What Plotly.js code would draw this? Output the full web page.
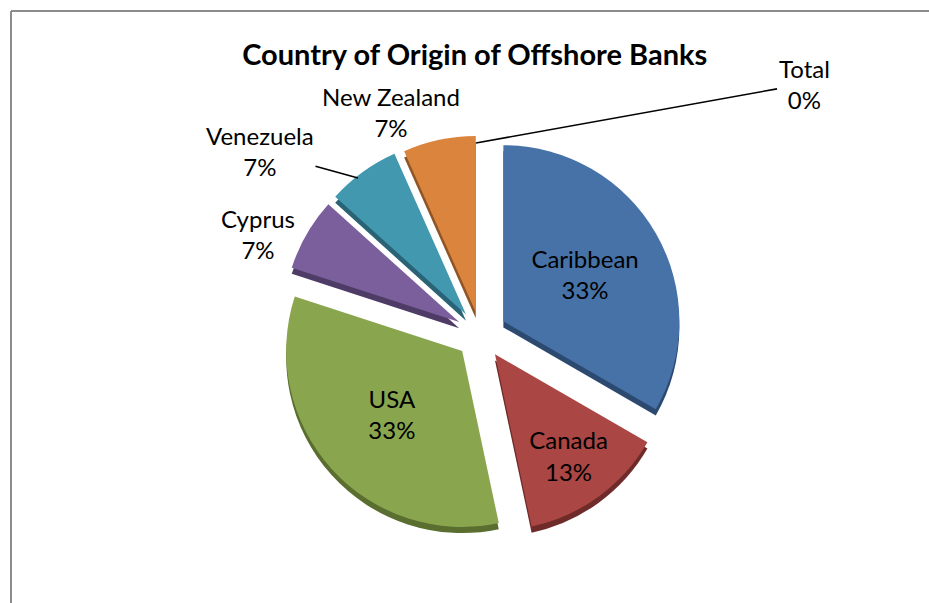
<!DOCTYPE html>
<html>
<head>
<meta charset="utf-8">
<script src="https://cdn.plot.ly/plotly-3.0.1.min.js"></script>
<style>html,body{margin:0;padding:0;background:#fff;}#chart{width:929px;height:603px;}</style>
</head>
<body>
<div id="chart"></div>
<script>
const categories = ["Caribbean", "Canada", "USA", "Cyprus", "Venezuela", "New Zealand", "Total"];
const counts = [5, 2, 5, 1, 1, 1, 0];
const colors = ["#4672A8", "#AA4643", "#89A54E", "#7A5F9C", "#4198AF", "#DB843D", "#93A9CF"];
const sideColors = ["#2C4A70", "#6E2B29", "#5A6E30", "#4E3C66", "#296375", "#8F5526", "#5F7090"];
const pulls = [0.15, 0.14, 0.14, 0.14, 0.14, 0.13, 0.1];
const textPos = ["inside", "inside", "inside", "none", "none", "none", "none"];

const W = 929, H = 603;
const M = {l: 80, r: 48, t: 132, b: 60};
const px = x => (x - M.l) / (W - M.l - M.r);
const py = y => (H - M.b - y) / (H - M.t - M.b);

const total = counts.reduce((a, b) => a + b, 0);
const pctText = i => categories[i] + "<br>" + Math.round(counts[i] / total * 100) + "%";

const font = "Lato, 'Open Sans', sans-serif";
const common = {
  type: "pie", values: counts, labels: categories, sort: false,
  direction: "clockwise", rotation: 0, pull: pulls, hole: 0,
  showlegend: false
};
const shadow = Object.assign({}, common, {
  marker: {colors: sideColors, line: {width: 0}},
  textinfo: "none", hoverinfo: "skip",
  domain: {x: [0, 1], y: [0, 0.985]}
});
const main = Object.assign({}, common, {
  marker: {colors: colors, line: {width: 0}},
  texttemplate: "%{label}<br>%{percent:.0%}",
  textposition: textPos,
  insidetextorientation: "horizontal",
  textfont: {family: font, size: 24, color: "#000"},
  domain: {x: [0, 1], y: [0.015, 1]}
});

// outside labels (index, arrow head px, label centre px)
const outside = [
  {i: 6, head: [476, 143], text: [804, 84], arrow: true},
  {i: 5, head: [432, 139], text: [391, 112], arrow: true},
  {i: 4, head: [358, 178], text: [260, 151], arrow: true},
  {i: 3, head: [258, 234], text: [258, 234], arrow: false}
];
const annotations = outside.map(o => ({
  xref: "paper", yref: "paper",
  x: px(o.head[0]), y: py(o.head[1]),
  ax: o.text[0] - o.head[0], ay: o.text[1] - o.head[1],
  text: pctText(o.i), showarrow: o.arrow,
  arrowhead: 0, arrowwidth: 1.6, arrowcolor: "#000", standoff: 0,
  align: "center", xanchor: "center", yanchor: "middle",
  font: {family: font, size: 24, color: "#000"}
}));

const frame = {color: "#8c8c8c", width: 2};
const layout = {
  width: W, height: H,
  margin: M,
  paper_bgcolor: "#fff",
  title: {text: "<b>Country of Origin of Offshore Banks</b>", x: 0.511, xanchor: "center", y: 1 - 55 / H, yanchor: "middle",
          font: {family: font, size: 29, color: "#000"}},
  annotations: annotations,
  shapes: [
    {type: "line", xref: "paper", yref: "paper", x0: px(11), x1: px(W + 5), y0: py(11), y1: py(11), line: frame},
    {type: "line", xref: "paper", yref: "paper", x0: px(11), x1: px(11), y0: py(11), y1: py(H + 5), line: frame}
  ]
};
Plotly.newPlot("chart", [shadow, main], layout, {displayModeBar: false, staticPlot: true});
</script>
</body>
</html>
